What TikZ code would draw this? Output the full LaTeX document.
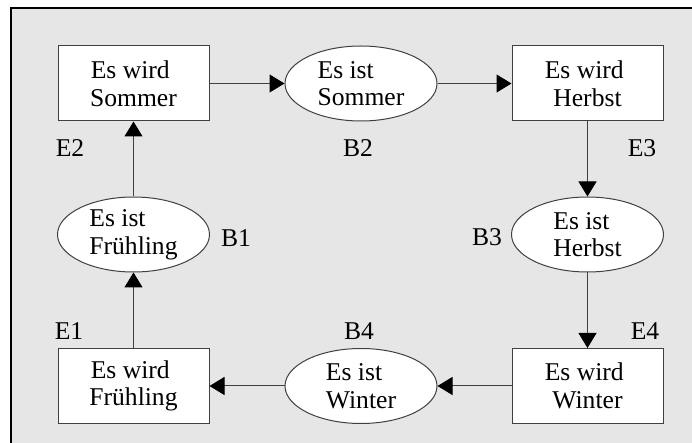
\documentclass[tikz,border=0pt]{standalone}
\usepackage{fontspec}
\setmainfont{Liberation Serif}
\usetikzlibrary{shapes.geometric,arrows.meta}
\definecolor{bggray}{HTML}{E6E6E6}
\definecolor{linegray}{HTML}{404040}
\newcommand{\trsp}{\rule{3.2pt}{0pt}}
\begin{document}
\begin{tikzpicture}[x=0.5pt,y=-0.5pt,
  every node/.style={font=\fontsize{12.8}{13.8}\selectfont},
  ebox/.style={draw=linegray,line width=0.5pt,fill=white,minimum width=75.5pt,minimum height=37.5pt,inner sep=0pt,align=center},
  bell/.style={draw=linegray,line width=0.5pt,fill=white,ellipse,minimum width=76pt,minimum height=37.5pt,inner sep=0pt,align=left},
  lbl/.style={inner sep=0pt},
  conn/.style={draw=linegray,line width=0.5pt,-{Triangle[length=7.5pt,width=9pt,color=black]}}]
\useasboundingbox (0,0) rectangle (692,443);
\draw[black,line width=0.6pt,fill=bggray] (11,8) rectangle (720,470);
% event boxes
\node[ebox] (e2) at (133.5,83.5) {Es wird\trsp\\Sommer};
\node[ebox] (e3) at (587.5,83.5) {Es wird\trsp\\Herbst};
\node[ebox] (e4) at (587.5,386) {Es wird\trsp\\Winter};
\node[ebox] (e1) at (133.5,386) {Es wird\trsp\\Frühling};
% state ellipses
\node[bell] (b2) at (361,83.5) {Es ist\\Sommer};
\node[bell] (b3) at (587.5,234.5) {Es ist\\Herbst};
\node[bell] (b4) at (361,386) {Es ist\\Winter};
\node[bell] (b1) at (133.5,234.5) {Es ist\\Frühling};
% labels
\node[lbl] (le2) at (70,148) {E2};
\node[lbl] (lb2) at (358,148) {B2};
\node[lbl] (le3) at (642,148) {E3};
\node[lbl] (lb3) at (487,237) {B3};
\node[lbl] (le4) at (645,331) {E4};
\node[lbl] (lb4) at (359,331) {B4};
\node[lbl] (le1) at (69,331) {E1};
\node[lbl] (lb1) at (236,238) {B1};
% connectors
\draw[conn] (e2) -- (b2);
\draw[conn] (b2) -- (e3);
\draw[conn] (e3) -- (b3);
\draw[conn] (b3) -- (e4);
\draw[conn] (e4) -- (b4);
\draw[conn] (b4) -- (e1);
\draw[conn] (e1) -- (b1);
\draw[conn] (b1) -- (e2);
\end{tikzpicture}
\end{document}
